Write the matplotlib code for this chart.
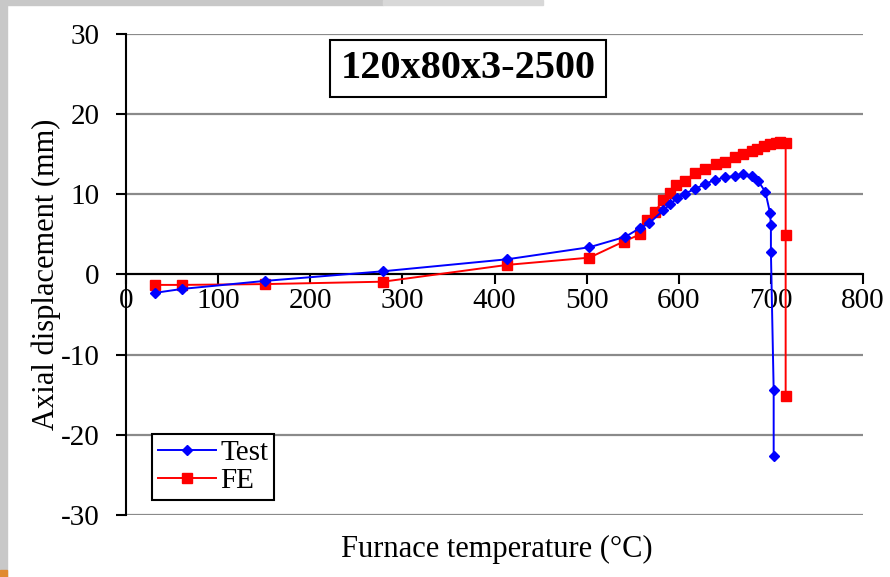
import matplotlib
matplotlib.use("Agg")
import matplotlib.pyplot as plt
from matplotlib.patches import Rectangle

# Test data (furnace temperature in C, axial displacement in mm)
test_T = [31, 61, 151, 279, 414, 503, 542, 558, 568, 583, 591, 598, 607, 618,
          629, 639, 650, 661, 670, 679, 686, 694, 699, 700, 700, 703, 703]
test_d = [-2.3, -1.8, -0.8, 0.4, 1.9, 3.4, 4.7, 5.8, 6.4, 8.0, 8.8, 9.5, 10.1, 10.7,
          11.3, 11.8, 12.1, 12.3, 12.5, 12.3, 11.7, 10.3, 7.7, 6.2, 2.8, -14.4, -22.7]

# FE results
fe_T = [31, 61, 151, 279, 414, 503, 540, 558, 565, 574, 583, 591, 597, 607, 618,
        629, 640, 650, 661, 670, 679, 685, 693, 699, 705, 710, 716, 716, 716]
fe_d = [-1.3, -1.3, -1.2, -0.9, 1.2, 2.1, 4.1, 5.0, 6.8, 7.8, 9.3, 10.2, 11.2, 11.7, 12.7,
        13.2, 13.8, 14.0, 14.7, 15.0, 15.4, 15.7, 16.0, 16.3, 16.4, 16.5, 16.4, 4.9, -15.2]

x_ticks = [0, 100, 200, 300, 400, 500, 600, 700, 800]
y_ticks = [-30, -20, -10, 0, 10, 20, 30]

plt.rcParams['font.family'] = ['Liberation Serif', 'DejaVu Serif']

fig = plt.figure(figsize=(8.9, 5.77), dpi=100)
ax = fig.add_axes([0.1416, 0.1075, 0.8281, 0.8336])

# grey frame bits from the screenshot
fig.patches.append(Rectangle((0, 0), 0.008, 1, transform=fig.transFigure,
                             color='#c8c8c8', zorder=0))
fig.patches.append(Rectangle((0, 0.991), 0.43, 0.009, transform=fig.transFigure,
                             color='#c8c8c8', zorder=0))
fig.patches.append(Rectangle((0.43, 0.991), 0.18, 0.009, transform=fig.transFigure,
                             color='#d8d8d8', zorder=0))
fig.patches.append(Rectangle((0, 0), 0.008, 0.012, transform=fig.transFigure,
                             color='#e08a30', zorder=1))

for y in y_ticks:
    ax.axhline(y, color='#8a8a8a', lw=1.6, zorder=1)

ax.plot(test_T, test_d, color='#0000ff', lw=1.4, marker='D', ms=5.5,
        label='Test', zorder=3)
ax.plot(fe_T, fe_d, color='#ff0000', lw=1.4, marker='s', ms=7,
        label='FE', zorder=2)

ax.set_xlim(0, 800)
ax.set_ylim(-30, 30)
ax.set_xticks(x_ticks)
ax.set_yticks(y_ticks)
ax.set_xticklabels([str(v) for v in x_ticks])
ax.set_yticklabels([str(v) for v in y_ticks])

ax.spines['bottom'].set_position(('data', 0))
ax.spines['top'].set_visible(False)
ax.spines['right'].set_visible(False)
ax.spines['left'].set_linewidth(1.5)
ax.spines['bottom'].set_linewidth(1.5)
ax.spines['bottom'].set_zorder(1.5)
ax.tick_params(axis='both', direction='out', length=7, width=1.5, labelsize=21)
ax.tick_params(axis='x', pad=3)
ax.tick_params(axis='y', pad=12)

ax.set_ylabel('Axial displacement (mm)', fontsize=22, labelpad=0)
fig.text(0.558, 0.047, 'Furnace temperature (\u00b0C)', fontsize=22,
         ha='center', va='center')

ax.text(0.464, 0.929, '120x80x3-2500', transform=ax.transAxes, fontsize=29,
        fontweight='bold', ha='center', va='center',
        bbox=dict(boxstyle='square,pad=0.25', fc='white', ec='black', lw=1.5))

leg = ax.legend(loc='lower left', bbox_to_anchor=(0.035, 0.031), fontsize=21,
                frameon=True, fancybox=False, edgecolor='black', framealpha=1,
                handlelength=2.0, handletextpad=0.15, borderpad=0.2,
                labelspacing=0.05, borderaxespad=0)
leg.get_frame().set_linewidth(1.5)

fig.savefig('out.png', dpi=100)
